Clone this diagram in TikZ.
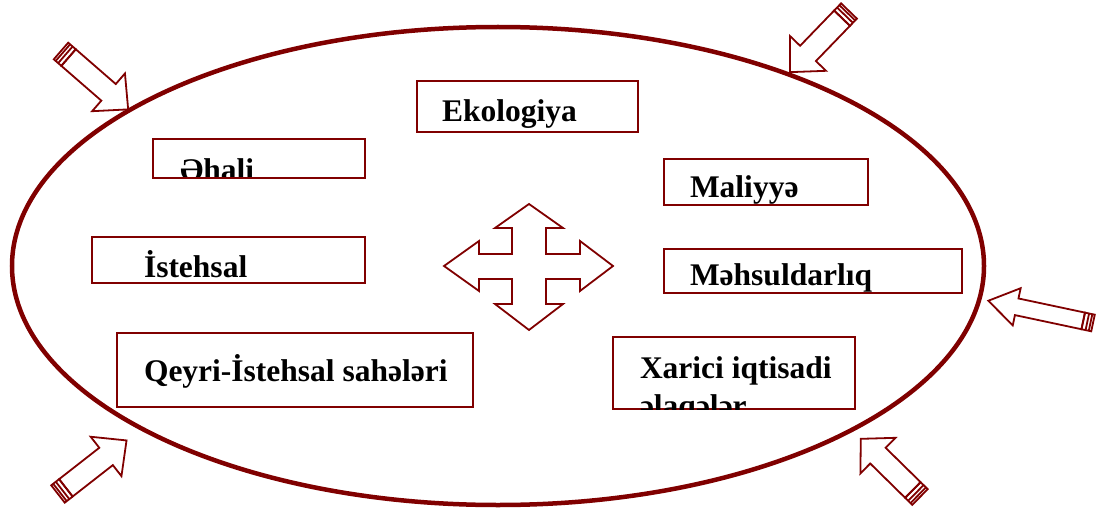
\documentclass[tikz,border=0pt]{standalone}
\usepackage{fontspec}
\usetikzlibrary{shapes.geometric}
\setmainfont{Liberation Serif}
\definecolor{dred}{RGB}{128,0,0}
\newcommand\ClipBox[8]{% name, x1,y1,x2,y2, textx, texty, text
  \node[boxshape, minimum width={(#4-#2)*1pt}, minimum height={(#5-#3)*1pt}] (#1) at ({(#2+#4)/2},{(#3+#5)/2}) {};
  \begin{scope}
    \clip (#1.south west) rectangle (#1.north east);
    \node[lbl] (#1-t) at (#6,#7) {#8};
  \end{scope}
  \draw[boxline] (#1.south west) rectangle (#1.north east);
}
\newcommand\BlockArrow[8]{% name, tailx, taily, rot, L, sw, hw, hl
  \begin{scope}[shift={(#2,#3)}, rotate=#4]
    \coordinate (#1-tail) at (0,0);
    \coordinate (#1-tip) at (#5,0);
    \draw[arrline, fill=white] (10,-#6) -- ({#5-#8},-#6) -- ({#5-#8},-#7) -- (#1-tip) -- ({#5-#8},#7) -- ({#5-#8},#6) -- (10,#6) -- cycle;
    \draw[arrline] (0,-#6) rectangle (10,#6);
    \draw[dred, line width=1.8pt] (2.5,-#6) -- (2.5,#6);
    \draw[dred, line width=1.8pt] (5.8,-#6) -- (5.8,#6);
  \end{scope}
}
\tikzset{
  boxshape/.style={draw=none, inner sep=0pt, outer sep=0pt},
  boxline/.style={draw=dred, line width=1.8pt},
  lbl/.style={anchor=base west, inner sep=0pt, outer sep=0pt,
    font=\fontsize{31.5}{38}\selectfont\bfseries},
  arrline/.style={draw=dred, line width=1.8pt, line join=miter},
  ring/.style={draw=dred, line width=4.5pt},
}
\begin{document}
\begin{tikzpicture}[x=1pt, y=-1pt]
  \useasboundingbox (0,0) rectangle (1104,511);
  \node[ring, ellipse, minimum width=972pt, minimum height=478pt, inner sep=0pt] (oval) at (498,266) {};
  \ClipBox{eko}{417}{81}{638}{132}{442}{121.5}{Ekologiya}
  \ClipBox{ehali}{153}{139}{365}{178}{180}{180}{Əhali}
  \ClipBox{maliyye}{664}{159}{868}{205}{690}{197}{Maliyyə}
  \ClipBox{istehsal}{92}{237}{365}{283}{144}{277}{İstehsal}
  \ClipBox{mehsul}{664}{249}{962}{293}{690}{285}{Məhsuldarlıq}
  \ClipBox{qeyri}{117}{333}{473}{407}{144}{381}{Qeyri-İstehsal sahələri}
  \ClipBox{xarici}{613}{337}{855}{409}{640}{378}{Xarici iqtisadi}
  \begin{scope}
    \clip (xarici.south west) rectangle (xarici.north east);
    \node[lbl] (xarici-t2) at (640,416) {əlaqələr};
  \end{scope}
  % central four-way arrow
  \draw[arrline] (529,204) coordinate (cross) -- (563,228) -- (546,228) -- (546,254) -- (580,254) -- (580,241) -- (613,266) -- (580,291) -- (580,279) -- (546,279) -- (546,304) -- (563,304) -- (529,330) -- (495,304) -- (512,304) -- (512,279) -- (479,279) -- (479,291) -- (444,266) -- (479,241) -- (479,254) -- (512,254) -- (512,228) -- (495,228) -- cycle;
  % outer block arrows
  \BlockArrow{a1}{61}{51}{-41}{89}{11}{25}{26}
  \BlockArrow{a2}{849}{11}{-134}{85}{11}{25}{26}
  \BlockArrow{a3}{1093}{323}{168}{107}{8.5}{19}{29}
  \BlockArrow{a4}{58}{494}{38}{87}{11}{25}{26}
  \BlockArrow{a5}{920}{497}{135.5}{83}{11}{25}{24}
\end{tikzpicture}
\end{document}
